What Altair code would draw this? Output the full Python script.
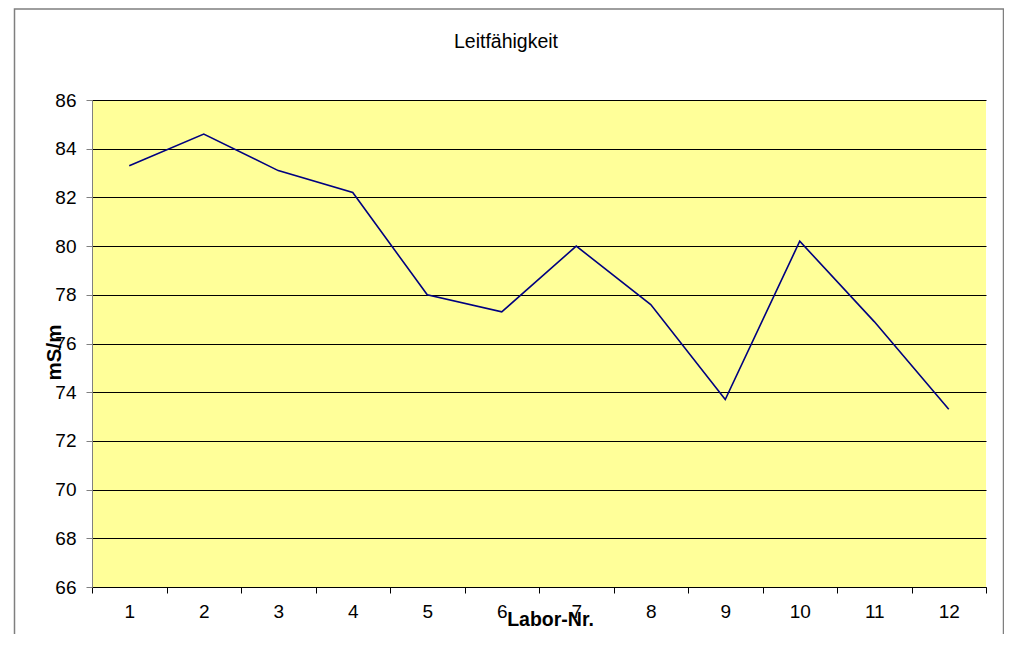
import altair as alt
import pandas as pd

titel = "Leitfähigkeit"
labor = [str(i) for i in range(1, 13)]
werte = [83.3, 84.6, 83.1, 82.2, 78.0, 77.3, 80.0, 77.6, 73.7, 80.2, 76.9, 73.3]
y_ticks = list(range(66, 87, 2))

df = pd.DataFrame({"Labor": labor, "Wert": werte})

FONT = "Liberation Sans"
W, H = 894, 487

line = alt.Chart(df).mark_line(color="#000080", strokeWidth=1.6).encode(
    x=alt.X(
        "Labor:O",
        sort=labor,
        bandPosition=0.5,
        scale=alt.Scale(type="band", paddingInner=0, paddingOuter=0),
        axis=alt.Axis(
            title="Labor-Nr.",
            labelAngle=0,
            tickBand="extent",
            tickSize=6,
            tickColor="#000000",
            domainColor="#000000",
            labelFont=FONT,
            labelFontSize=19,
            labelColor="#000000",
            labelPadding=9,
            titleFont=FONT,
            titleFontSize=19.5,
            titleFontWeight="bold",
            titleColor="#000000",
            titleX=458,
            titleY=32,
            titleBaseline="middle",
            titleAlign="center",
            grid=False,
        ),
    ),
    y=alt.Y(
        "Wert:Q",
        scale=alt.Scale(domain=[66, 86], nice=False, zero=False),
        axis=alt.Axis(
            title="mS/m",
            values=y_ticks,
            format="d",
            tickSize=6,
            tickColor="#808080",
            domainColor="#808080",
            gridColor="#000000",
            gridWidth=1,
            gridOpacity=1,
            labelFont=FONT,
            labelFontSize=19,
            labelColor="#000000",
            labelPadding=10,
            titleFont=FONT,
            titleFontSize=20.5,
            titleFontWeight="bold",
            titleColor="#000000",
            titleX=-38,
            titleY=252,
            titleAngle=270,
            titleAlign="center",
            titleBaseline="middle",
        ),
    ),
)

deco = alt.Data(values=[{}])

frame = alt.Chart(deco).mark_rect(
    fill=None, stroke="#7f7f7f", strokeWidth=1.5
).encode(
    x=alt.value(-77.5),
    x2=alt.value(911.5),
    y=alt.value(-91),
    y2=alt.value(600),
)

title_mark = alt.Chart(deco).mark_text(
    font=FONT, fontSize=19.5, color="#000000", align="center", baseline="alphabetic"
).encode(
    x=alt.value(414),
    y=alt.value(-52),
    text=alt.value(titel),
)

chart = alt.layer(line, frame, title_mark).properties(
    width=W,
    height=H,
    autosize=alt.AutoSizeParams(type="none"),
    padding={"left": 84, "top": 92, "right": 18, "bottom": 47},
).configure(
    background="#FFFFFF",
    view=alt.ViewConfig(fill="#FFFF99", strokeWidth=0),
)

chart.save("out.html", embed_options={"renderer": "svg", "actions": False})
